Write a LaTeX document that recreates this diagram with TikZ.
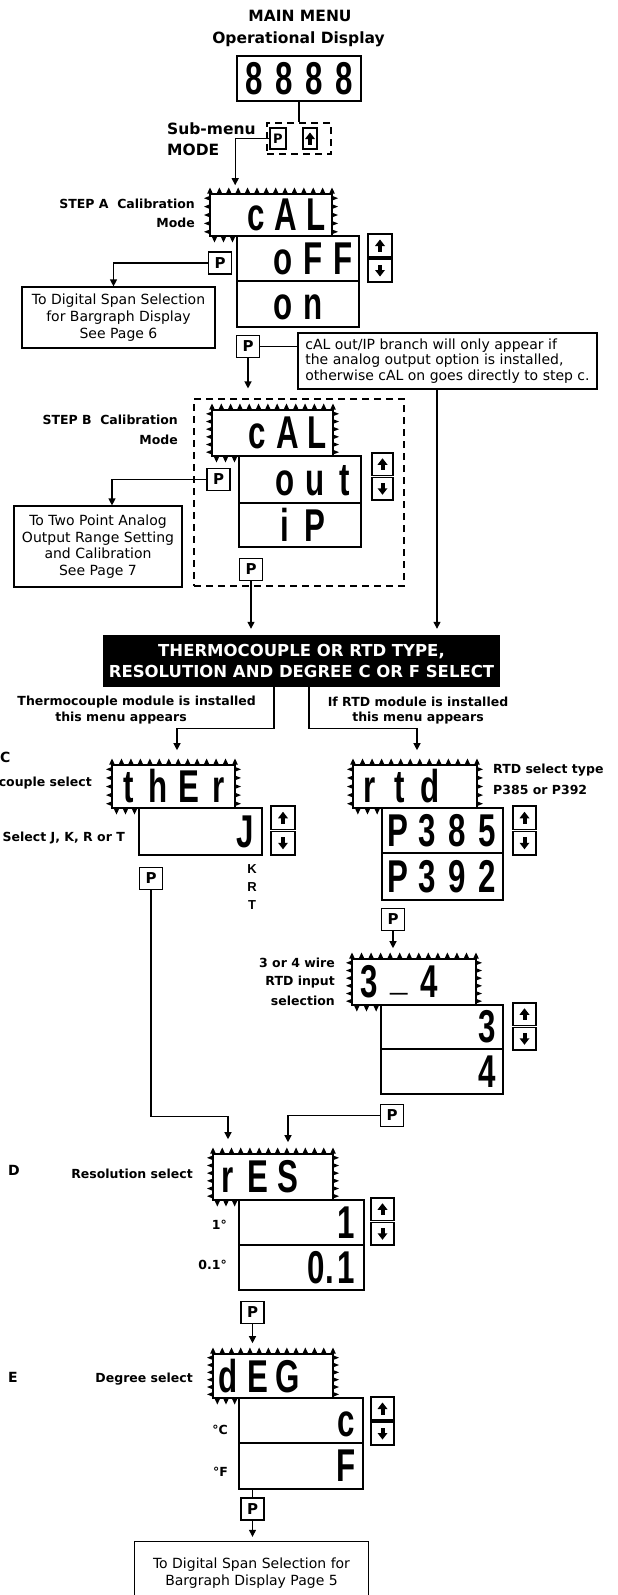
\documentclass[tikz,border=0pt]{standalone}
\usepackage{fontspec}
\usepackage{graphicx}
\setmainfont{DejaVu Sans}
\newfontfamily\segf{Liberation Sans}
\usetikzlibrary{arrows.meta,calc}
\newcommand\segfont{\segf\bfseries\fontsize{46}{46}\selectfont}
\newcommand\sgc[1]{\makebox[30pt][c]{\scalebox{0.68}[1]{#1}}}
\newcommand\seg[4]{\vphantom{A}\sgc{#1}\sgc{#2}\sgc{#3}\sgc{#4}}
\newcommand\undr{\raisebox{0.17em}{\smash{\_}}}
% teeth around a display: x1 y1 x2 y2 xb
\newcommand\teeth[5]{%
  \pgfmathsetmacro\tkW{#3-#1}%
  \pgfmathtruncatemacro\tkN{round(\tkW/9.4)}%
  \pgfmathsetmacro\tkS{\tkW/\tkN}%
  \foreach \tki in {0,...,\tkN}{%
    \pgfmathsetmacro\tkx{#1+\tki*\tkS}%
    \fill (\tkx-2.8,#2-0.5) -- (\tkx,#2-6.5) -- (\tkx+2.8,#2-0.5) -- cycle;}%
  \pgfmathsetmacro\tkH{#4-#2}%
  \pgfmathtruncatemacro\tkM{round(\tkH/8)}%
  \pgfmathsetmacro\tkT{\tkH/\tkM}%
  \foreach \tki in {1,...,\tkM}{%
    \pgfmathsetmacro\tky{#2+\tki*\tkT-\tkT/2}%
    \fill (#1+0.5,\tky-2.6) -- (#1-6,\tky) -- (#1+0.5,\tky+2.6) -- cycle;
    \fill (#3-0.5,\tky-2.6) -- (#3+6,\tky) -- (#3-0.5,\tky+2.6) -- cycle;}%
  \pgfmathsetmacro\tkB{#5-#1}%
  \pgfmathtruncatemacro\tkK{max(1,round(\tkB/9.4))}%
  \pgfmathsetmacro\tkU{\tkB/\tkK}%
  \foreach \tki in {1,...,\tkK}{%
    \pgfmathsetmacro\tkx{#1+\tki*\tkU-\tkU/2}%
    \fill (\tkx-2.8,#4+0.5) -- (\tkx,#4+6.5) -- (\tkx+2.8,#4+0.5) -- cycle;}%
}
\newcommand\dispbox[7]{%
  \node[disp,minimum width={#4-#2},minimum height={#5-#3}] (#1) at ({(#2+#4)/2},{(#3+#5)/2}) {#7};
  \teeth{#2}{#3}{#4}{#5}{#6}}
\newcommand\valbx[6]{%
  \node[valbox,minimum width={#4-#2},minimum height={#5-#3}] (#1) at ({(#2+#4)/2},{(#3+#5)/2}) {#6};}
\newcommand\uparr[1]{%
  \fill ($(#1)+(-5,0.5)$) -- ($(#1)+(0,-6)$) -- ($(#1)+(5,0.5)$) -- cycle;
  \fill ($(#1)+(-2,0)$) rectangle ($(#1)+(2,6)$);}
\newcommand\dnarr[1]{%
  \fill ($(#1)+(-5,-0.5)$) -- ($(#1)+(0,6)$) -- ($(#1)+(5,-0.5)$) -- cycle;
  \fill ($(#1)+(-2,0)$) rectangle ($(#1)+(2,-6)$);}
\newcommand\udbtn[5]{%
  \pgfmathsetmacro\udm{(#3+#5)/2}%
  \node[btn,minimum width={#4-#2},minimum height={\udm-#3-1}] (#1u) at ({(#2+#4)/2},{(#3+\udm-1)/2}) {};
  \node[btn,minimum width={#4-#2},minimum height={#5-\udm-1}] (#1d) at ({(#2+#4)/2},{(\udm+1+#5)/2}) {};
  \uparr{#1u}\dnarr{#1d}}
\begin{document}
\begin{tikzpicture}[x=1pt,y=-1pt,
  ln/.style={line width=1.2pt},
  arr/.style={line width=1.2pt,-{Triangle[length=7pt,width=7pt]}},
  disp/.style={draw,line width=1.6pt,inner sep=0pt,font=\segfont},
  valbox/.style={draw,line width=1.3pt,inner sep=0pt,font=\segfont},
  btn/.style={draw,line width=1.2pt,inner sep=0pt},
  pbtn/.style={draw,line width=1.3pt,inner sep=0pt,minimum width=23pt,minimum height=22pt,font=\bfseries\fontsize{15}{15}\selectfont},
  body/.style={font=\fontsize{14}{17}\selectfont,align=center,inner sep=0pt},
  lab/.style={font=\bfseries\fontsize{12.5}{15}\selectfont,inner sep=0pt},
  big/.style={font=\bfseries\fontsize{15.5}{18}\selectfont,inner sep=0pt},
  letter/.style={font=\bfseries\fontsize{14}{14}\selectfont,inner sep=0pt,anchor=west},
  tiny/.style={font=\segf\bfseries\fontsize{13}{13}\selectfont,inner sep=0pt},
  frame/.style={draw,dashed,line width=1.1pt,dash pattern=on 7pt off 5pt,inner sep=0pt}]
\path[use as bounding box,fill=white] (0,0) rectangle (618,1595);
\coordinate (bot) at (0,1595);

% ---- main menu
\node[big] (t1) at (300,16) {MAIN MENU};
\node[big] (t2) at (298.5,39) {Operational Display};
\node[disp,minimum width=124,minimum height=45] (d0) at (299,78.5) {\seg{8}{8}{8}{8}};
\node[frame,minimum width=64,minimum height=31] (sub) at (299,138.5) {};
\node[pbtn,minimum width=16,minimum height=21,font=\bfseries\fontsize{13}{13}\selectfont] (p0) at (278,138.5) {P};
\node[btn,minimum width=14,minimum height=21] (u0) at (310,138.5) {};
\uparr{u0}
\node[big,anchor=west] (sm1) at (167,129) {Sub-menu};
\node[big,anchor=west] (sm2) at (167,150) {MODE};

% ---- step A
\dispbox{dA}{210}{194}{332}{236}{237}{\seg{}{c}{A}{L}}
\valbx{vA1}{237}{236}{359}{281}{\seg{}{o}{F}{F}}
\valbx{vA2}{237}{281}{359}{327}{\seg{}{o}{n}{}}
\udbtn{udA}{368}{234}{392}{282}
\node[lab,anchor=east] (la1) at (195,204) {STEP A\ \ Calibration};
\node[lab,anchor=east] (la2) at (195,223) {Mode};
\node[pbtn] (pA) at (220,263) {P};
\node[body,draw,line width=1.2pt,minimum width=193,minimum height=61] (bA) at (118.5,317.5) {To Digital Span Selection\\for Bargraph Display\\See Page 6};
\node[pbtn] (pA2) at (248,346.5) {P};
\node[draw,line width=1.2pt,minimum width=299,minimum height=56,inner sep=0pt,align=left,font=\fontsize{14}{15.5}\selectfont] (note) at (447.5,361) {cAL out/IP branch will only appear if\\the analog output option is installed,\\otherwise cAL on goes directly to step c.};

% ---- step B
\node[frame,minimum width=210,minimum height=187] (fB) at (299,492.5) {};
\dispbox{dB}{212}{410}{333}{456}{239}{\seg{}{c}{A}{L}}
\valbx{vB1}{239}{456}{361}{503}{\seg{}{o}{u}{t}}
\valbx{vB2}{239}{503}{361}{547}{\seg{}{i}{P}{}}
\udbtn{udB}{372}{453}{393}{500}
\node[lab,anchor=east] (lb1) at (178,420) {STEP B\ \ Calibration};
\node[lab,anchor=east] (lb2) at (178,440) {Mode};
\node[pbtn] (pB) at (218.5,479.5) {P};
\node[body,draw,line width=1.2pt,minimum width=168,minimum height=81,font=\fontsize{14}{16.7}\selectfont] (bB) at (98,546.5) {To Two Point Analog\\Output Range Setting\\and Calibration\\See Page 7};
\node[pbtn] (pB2) at (251,569.5) {P};

% ---- black title
\node[fill=black,text=white,minimum width=397,minimum height=52,inner sep=0pt,align=center,font=\bfseries\fontsize{16.5}{21}\selectfont] (tc) at (301.5,661) {THERMOCOUPLE OR RTD TYPE,\\RESOLUTION AND DEGREE C OR F SELECT};
\node[lab,anchor=east] (lt1) at (256,702) {Thermocouple module is installed};
\node[lab] (lt2) at (121,718) {this menu appears};
\node[lab] (lr1) at (418,702) {If RTD module is installed};
\node[lab] (lr2) at (418,718) {this menu appears};

% ---- C thermocouple
\node[letter] (lc) at (0,757) {C};
\node[lab,anchor=east] (lc2) at (92,783) {couple select};
\node[lab,anchor=east] (lc3) at (125,838) {Select J, K, R or T};
\dispbox{dT}{112}{765}{235}{808}{139}{\seg{t}{h}{E}{r}}
\valbx{vT}{139}{808}{262}{855}{\seg{}{}{}{J}}
\udbtn{udT}{271}{806}{295}{855}
\node[tiny] (kk) at (252,869) {K};
\node[tiny] (kr) at (252,887) {R};
\node[tiny] (kt) at (252,905) {T};
\node[pbtn] (pT) at (151,878.5) {P};

% ---- RTD
\dispbox{dR}{353}{765}{477}{808}{382}{\seg{r}{t}{d}{}}
\valbx{vR1}{382}{808}{503}{853}{\seg{P}{3}{8}{5}}
\valbx{vR2}{382}{853}{503}{900}{\seg{P}{3}{9}{2}}
\udbtn{udR}{513}{806}{536}{855}
\node[lab,anchor=west] (lr3) at (493,770) {RTD select type};
\node[lab,anchor=west] (lr4) at (493,790) {P385 or P392};
\node[pbtn] (pR) at (393,919.5) {P};
\dispbox{d34}{352}{959}{476}{1005}{381}{\seg{3}{\undr}{4}{}}
\valbx{v341}{381}{1005}{503}{1049}{\seg{}{}{}{3}}
\valbx{v342}{381}{1049}{503}{1094}{\seg{}{}{}{4}}
\udbtn{ud34}{513}{1003}{536}{1050}
\node[lab,anchor=east] (lw1) at (335,963) {3 or 4 wire};
\node[lab,anchor=east] (lw2) at (335,982) {RTD input};
\node[lab,anchor=east] (lw3) at (335,1001) {selection};
\node[pbtn] (p34) at (392,1115.5) {P};

% ---- D resolution
\node[letter] (ld) at (8,1170) {D};
\node[lab,anchor=east] (ld2) at (193,1174) {Resolution select};
\dispbox{dRes}{213}{1154}{333}{1200}{239}{\seg{r}{E}{S}{}}
\valbx{vRes1}{239}{1200}{364}{1245}{\seg{}{}{}{1}}
\valbx{vRes2}{239}{1245}{364}{1290}{\seg{}{}{0\rlap{.}}{1}}
\udbtn{udRes}{371}{1198}{394}{1245}
\node[lab,anchor=east] (ld3) at (227,1225) {1°};
\node[lab,anchor=east] (ld4) at (227,1265) {0.1°};
\node[pbtn] (pRes) at (252.5,1312.5) {P};

% ---- E degree
\node[letter] (le) at (8,1377) {E};
\node[lab,anchor=east] (le2) at (193,1379) {Degree select};
\dispbox{dDeg}{213}{1354}{333}{1398}{239}{\seg{d}{E}{G}{}}
\valbx{vDeg1}{239}{1398}{363}{1443}{\seg{}{}{}{c}}
\valbx{vDeg2}{239}{1443}{363}{1489}{\seg{}{}{}{F}}
\udbtn{udDeg}{371}{1397}{394}{1445}
\node[lab,anchor=east] (le3) at (228,1430) {°C};
\node[lab,anchor=east] (le4) at (228,1472) {°F};
\node[pbtn] (pDeg) at (252.5,1509) {P};
\node[body,minimum width=233,minimum height=62] (fin) at (251.5,1573) {To Digital Span Selection for\\Bargraph Display Page 5};
\draw[line width=1.2pt] (fin.north west |- bot) -- (fin.north west) -- (fin.north east) -- (fin.north east |- bot);

% ---- connectors
\draw[ln] (d0.south) -- (sub.north);
\draw[arr,shorten >=8pt] (p0.west) -| ($(dA.north west)+(26,0)$);
\draw[arr] (pA.west) -| ($(bA.north)+(-5,0)$);
\draw[ln] (pA2.east) -- (pA2.east -| note.west);
\draw[arr,shorten >=10pt] (pA2.south) -- (pA2.south |- fB.north);
\coordinate (tcR) at ($(tc.north)+(135.5,0)$);
\draw[arr,shorten >=6pt] (note.south -| tcR) -- (tcR);
\draw[arr] (pB.west) -| ($(bB.north)+(14,0)$);
\draw[arr,shorten >=6pt] (pB2.south) -- (pB2.south |- tc.north);
\draw[arr,shorten >=14pt] ($(tc.south)+(-27.5,0)$) -- ++(0,41) -| ($(dT.north)+(3.5,0)$);
\draw[arr,shorten >=14pt] ($(tc.south)+(7.5,0)$) -- ++(0,41) -| ($(dR.north)+(2,0)$);
\draw[arr,shorten >=14pt] (pT.south) -- ++(0,226) -| ($(dRes.north)+(-45,0)$);
\draw[arr,shorten >=10pt] (pR.south) -- (pR.south |- d34.north);
\draw[arr,shorten >=11pt] (p34.west) -| ($(dRes.north)+(15,0)$);
\draw[arr,shorten >=10pt] (pRes.south) -- (pRes.south |- dDeg.north);
\draw[ln] (vDeg2.south -| pDeg) -- (pDeg.north);
\draw[arr,shorten >=5pt] (pDeg.south) -- (pDeg.south |- fin.north);
\end{tikzpicture}
\end{document}
